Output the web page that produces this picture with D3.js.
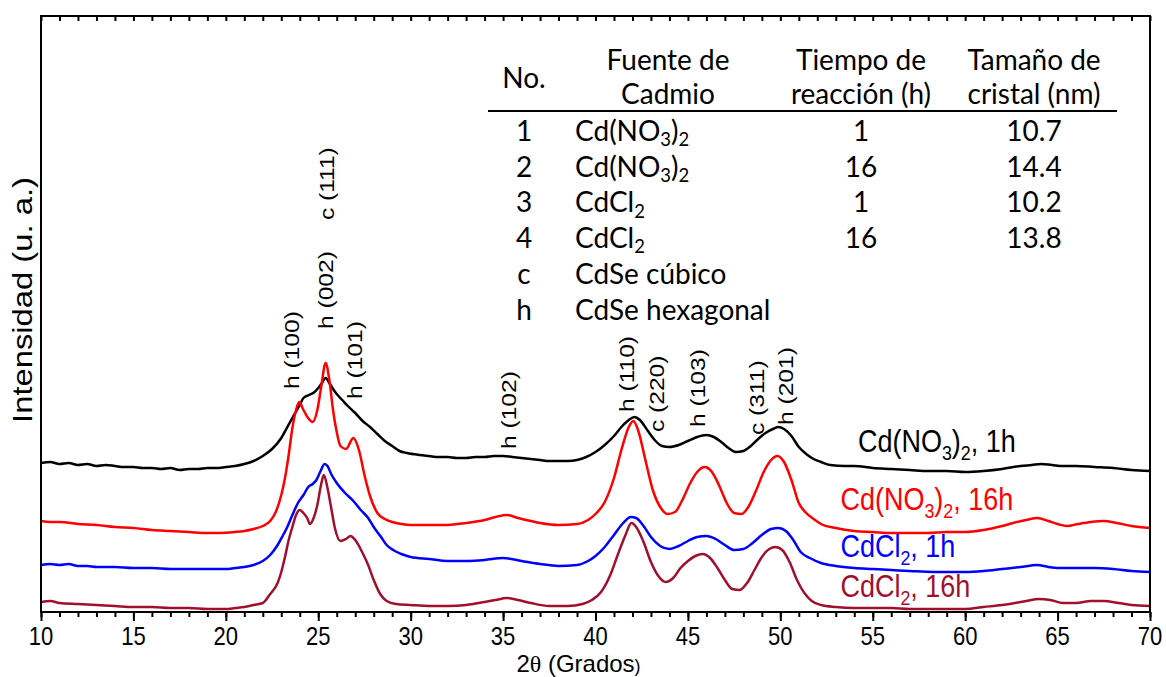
<!DOCTYPE html>
<html>
<head>
<meta charset="utf-8">
<script src="https://cdn.jsdelivr.net/npm/d3@7"></script>
<style>
  body { margin: 0; background: #fff; }
  svg { display: block; }
</style>
</head>
<body>
<svg id="chart" width="1166" height="677"></svg>
<script>
// X-ray diffraction patterns of CdSe, offset vertically (arbitrary units).
// Each point: [2θ in degrees, intensity in a.u. including the stacking offset]
const cdNO3_1h = [
  [10,149],[10.5,150],[11,148],[11.5,149],[12,147],[12.5,148],[13,146],[13.5,147],[14,146],[14.5,145],
  [15,145],[15.5,144],[16,144],[16.5,143],[17,144],[17.5,142],[18,143],[18.5,143],[19,144],[19.5,144],
  [20,145],[20.5,146],[21,148],[21.5,151],[22,156],[22.5,163],[23,174],[23.3,184],[23.6,194],[24,207],
  [24.2,214],[24.5,217],[24.8,220],[25,224],[25.2,229],[25.4,234],[25.6,229],[25.8,223],[26,218],[26.3,212],
  [26.6,206],[27,199],[27.4,191],[27.8,185],[28.2,178],[28.6,171],[29,166],[29.4,161],[29.8,159],[30.5,157],
  [31,156],[31.5,155],[32,155],[32.5,154],[33,154],[33.5,155],[34,155],[34.5,156],[35,156],[35.5,155],
  [36,154],[36.5,153],[37,152],[37.5,151],[38,151],[38.5,151],[39,152],[39.5,155],[40,160],[40.5,167],
  [41,176],[41.4,185],[41.8,192],[42.1,195],[42.4,192],[42.8,182],[43.2,172],[43.6,166],[44,165],[44.5,167],
  [45,171],[45.5,175],[46,177],[46.4,175],[46.8,170],[47.2,164],[47.6,160],[48,161],[48.4,166],[48.8,173],
  [49.2,179],[49.6,183],[49.9,185],[50.2,183],[50.6,176],[51,165],[51.4,158],[51.8,153],[52.2,150],[52.7,147],
  [53.5,146],[54,146],[55,144],[56,143],[57,142],[58,141],[59,141],[60,140],[61,141],[62,143],
  [63,146],[63.6,147],[64.1,148],[64.7,147],[65.3,146],[66,146],[67,145],[68,144],[69,142],[70,141]
];

const cdNO3_16h = [
  [10,91],[10.5,90],[11,90],[12,88],[13,87],[14,85],[15,84],[16,82],[17,81],[18,80],
  [19,79],[19.5,79],[20.5,80],[21,81],[21.5,83],[22,86],[22.4,91],[22.7,100],[23,117],[23.2,134],
  [23.4,157],[23.6,184],[23.8,202],[23.97,210],[24.2,202],[24.45,194],[24.7,190],[24.95,202],[25.15,224],[25.4,249],
  [25.6,232],[25.8,202],[26,180],[26.2,166],[26.5,163],[26.9,174],[27.2,162],[27.5,137],[27.8,116],[28.2,99],
  [28.6,93],[29,90],[29.5,88],[30,87],[31,87],[32,87],[33,89],[34,92],[34.6,95],[35.2,97],
  [35.8,94],[36.5,91],[37,89],[38,87],[39,88],[39.6,92],[40,98],[40.5,110],[41,134],[41.4,162],
  [41.8,185],[42.05,191],[42.3,182],[42.7,152],[43.1,122],[43.5,105],[43.9,98],[44.3,100],[44.7,112],[45.1,128],
  [45.5,140],[45.9,145],[46.3,140],[46.7,126],[47.1,109],[47.5,99],[47.9,98],[48.3,106],[48.7,122],[49.1,140],
  [49.5,152],[49.85,156],[50.2,150],[50.6,132],[51,109],[51.4,99],[51.8,93],[52.2,88],[53,84],[54,81],
  [55,80],[56,79],[57,79],[58,79],[59,80],[60,80],[61,82],[62,86],[62.6,89],[63.3,92],
  [63.9,94],[64.5,91],[65,88],[65.5,86],[66.1,88],[66.8,90],[67.5,91],[68.2,89],[69,86],[70,84]
];

const cdCl2_1h = [
  [10,47],[10.5,48],[11,47],[11.5,48],[12,46],[12.5,46],[13,45],[14,45],[15,44],[16,44],
  [17,43],[18,43],[19,43],[20,43],[20.5,44],[21,45],[21.5,47],[22,51],[22.4,57],[22.8,67],
  [23.1,77],[23.3,84],[23.6,97],[23.9,109],[24.2,117],[24.46,125],[24.7,128],[24.9,132],[25.1,140],[25.35,148],
  [25.5,146],[25.7,138],[26,129],[26.4,120],[26.9,111],[27.3,102],[27.7,94],[28,85],[28.4,75],[28.7,67],
  [29.05,62],[29.5,58],[30,55],[31,53],[32,51],[33,51],[34,52],[35,54],[36,51],[37,48],
  [38,46],[39,47],[39.6,51],[40,56],[40.5,65],[41,77],[41.5,89],[41.9,95],[42.2,94],[42.6,86],
  [43,75],[43.5,66],[44,63],[44.5,66],[45,71],[45.5,75],[46,76],[46.5,73],[47,67],[47.5,62],
  [48,63],[48.5,69],[49,77],[49.5,83],[49.9,84],[50.3,81],[50.7,72],[51.1,60],[51.6,54],[52.2,49],
  [53,46],[54,44],[55,43],[56,42],[57,41],[58.3,40],[59,40],[60,40],[61,41],[62,43],
  [63,45],[63.9,47],[64.5,45],[65,44],[66,44],[67,44],[68,43],[69,41],[70,40]
];

const cdCl2_16h = [
  [10,10],[10.5,11],[11,9],[12,8],[13,7],[14,6],[15,5],[16,5],[17,4],[18,4],
  [19,3],[20,3],[20.5,4],[21,5],[21.5,7],[22,9],[22.4,18],[22.8,29],[23,40],[23.2,55],
  [23.4,72],[23.6,85],[23.8,97],[24,102],[24.2,99],[24.4,94],[24.55,88],[24.75,94],[24.95,107],[25.15,127],
  [25.3,137],[25.5,124],[25.7,104],[25.9,84],[26.2,71],[26.5,73],[26.75,76],[27,72],[27.4,59],[27.7,47],
  [28,32],[28.35,18],[28.7,11],[29.2,8],[30,7],[31,6],[32,6],[33,7],[34,10],[34.6,12],
  [35.2,14],[35.8,12],[36.5,9],[37.5,6],[38.5,6],[39.3,8],[39.8,12],[40.3,20],[40.8,37],[41.2,57],
  [41.6,76],[41.95,89],[42.2,85],[42.6,70],[43,50],[43.4,36],[43.8,30],[44.2,34],[44.6,44],[45,51],
  [45.4,56],[45.8,58],[46.2,54],[46.6,44],[47,32],[47.4,23],[47.8,22],[48.2,29],[48.6,42],[49,55],
  [49.4,63],[49.75,65],[50.1,62],[50.5,50],[50.9,32],[51.3,19],[51.7,11],[52.2,7],[53,5],[54,4],
  [55,4],[56,4],[57,3],[58,3],[59,3],[60,3],[61,5],[62,7],[62.7,9],[63.3,11],
  [64,13],[64.6,12],[65.3,9],[66,9],[66.8,11],[67.5,11],[68.3,9],[69,7],[70,6]
];

const seriesNames = ["Cd(NO_3)_2, 1h", "Cd(NO_3)_2, 16h", "CdCl_2, 1h", "CdCl_2, 16h"];
const seriesColors = ["#000000", "#ff0000", "#0000ff", "#a0102e"];
const seriesData = [cdNO3_1h, cdNO3_16h, cdCl2_1h, cdCl2_16h];
// label anchor: [2θ, intensity] of the text start
const seriesLabelAt = [[54.2,160],[53.25,102],[53.25,55],[53.25,15]];

// Reflection assignments: text, 2θ of the text baseline, intensity where the text starts
const peakText  = ["h (100)","h (002)","c (111)","h (101)","h (102)","h (110)","c (220)","h (103)","c (311)","h (201)"];
const peakTheta = [23.97, 25.81, 25.86, 27.38, 35.72, 42.11, 43.73, 45.90, 49.09, 50.71];
const peakLevel = [223, 283, 392, 213, 163, 200, 180, 185, 177, 187];

const xMajorTicks = [10,15,20,25,30,35,40,45,50,55,60,65,70];
const xMinorTicks = d3.range(10, 71, 1);

// Inset table
const tableHeadNo = "No.";
const tableHead = [["Fuente de","Cadmio"],["Tiempo de","reacción (h)"],["Tamaño de","cristal (nm)"]];
const tableNo     = ["1","2","3","4","c","h"];
const tableSource = ["Cd(NO_3)_2","Cd(NO_3)_2","CdCl_2","CdCl_2","CdSe cúbico","CdSe hexagonal"];
const tableTime   = ["1","16","1","16","",""];
const tableSize   = ["10.7","14.4","10.2","13.8","",""];

const svg = d3.select("#chart");
const W = 1166, H = 677;
const margin = {left: 41, right: 16, top: 16, bottom: 65};
const x = d3.scaleLinear().domain([10, 70]).range([margin.left, W - margin.right]);
const y = d3.scaleLinear().domain([0, 596]).range([H - margin.bottom, margin.top]);
const STRETCH = 1.17;
const SANS = "'Liberation Sans', Arimo, Arial, sans-serif";

// Writes "A_3" style markup as text, with the character after "_" as a subscript.
function richText(sel, str, size, shift) {
  const parts = str.split(/_(.)/);
  let pending = 0;
  parts.forEach((p, i) => {
    if (p === "") return;
    const sub = i % 2 === 1;
    const target = sub ? shift : 0;
    const ts = sel.append("tspan")
      .attr("font-size", sub ? size * 0.66 : size)
      .text(p);
    const dy = target - pending;
    if (dy !== 0) ts.attr("dy", dy);
    pending = target;
  });
}

// Patterns
const line = d3.line().x(d => x(d[0])).y(d => y(d[1])).curve(d3.curveMonotoneX);
const plot = svg.append("g");
seriesData.forEach((data, i) => {
  plot.append("path")
    .datum(data)
    .attr("d", line)
    .attr("fill", "none")
    .attr("stroke", seriesColors[i])
    .attr("stroke-width", 2.5)
    .attr("stroke-linejoin", "round");
});

// Frame
svg.append("rect")
  .attr("x", x(10)).attr("y", y(596))
  .attr("width", x(70) - x(10)).attr("height", y(0) - y(596))
  .attr("fill", "none").attr("stroke", "#000").attr("stroke-width", 2);

// Bottom ticks (outward) and top ticks (inward)
const bottomMinor = d3.axisBottom(x).tickValues(xMinorTicks).tickSize(5).tickFormat("");
const bottomMajor = d3.axisBottom(x).tickValues(xMajorTicks).tickSize(9).tickFormat("");
const topMinor = d3.axisTop(x).tickValues(xMinorTicks).tickSize(-5).tickFormat("");
[bottomMinor, bottomMajor].forEach(ax => {
  const g = svg.append("g").attr("transform", `translate(0,${y(0)})`).call(ax);
  g.select(".domain").remove();
  g.selectAll("text").remove();
  g.selectAll("line").attr("stroke", "#000").attr("stroke-width", 2);
});
{
  const g = svg.append("g").attr("transform", `translate(0,${y(596)})`).call(topMinor);
  g.select(".domain").remove();
  g.selectAll("text").remove();
  g.selectAll("line").attr("stroke", "#000").attr("stroke-width", 2);
}

// Tick labels
svg.append("g").selectAll("text")
  .data(xMajorTicks).join("text")
  .attr("transform", d => `translate(${x(d)},${y(0) + 33}) scale(1,${STRETCH})`)
  .attr("text-anchor", "middle")
  .attr("font-family", SANS).attr("font-size", 22)
  .attr("fill", "#000")
  .text(d => d);

// Axis titles
{
  const t = svg.append("text")
    .attr("transform", `translate(${(x(10) + x(70)) / 2 - 17},${H - 5})`)
    .attr("text-anchor", "middle")
    .attr("font-family", SANS).attr("font-size", 24).attr("fill", "#000");
  t.append("tspan").text("2");
  t.append("tspan").attr("font-family", "'Liberation Serif', 'DejaVu Serif', serif").text("\u03B8");
  t.append("tspan").text(" (Grados");
  t.append("tspan").attr("font-size", 18).text(")");
}
svg.append("text")
  .attr("transform", `translate(32,${(y(0) + y(596)) / 2 - 14}) scale(1,${STRETCH}) rotate(-90)`)
  .attr("text-anchor", "middle")
  .attr("font-family", SANS).attr("font-size", 28).attr("fill", "#000")
  .text("Intensidad (u. a.)");

// Reflection labels
svg.append("g").selectAll("text")
  .data(peakText).join("text")
  .attr("transform", (d, i) => `translate(${x(peakTheta[i])},${y(peakLevel[i])}) scale(1,${STRETCH}) rotate(-90)`)
  .attr("font-family", SANS).attr("font-size", 21).attr("fill", "#000")
  .text(d => d);

// Series labels
seriesNames.forEach((name, i) => {
  const [t, v] = seriesLabelAt[i];
  const txt = svg.append("text")
    .attr("transform", `translate(${x(t)},${y(v)}) scale(1,${STRETCH})`)
    .attr("font-family", SANS).attr("fill", seriesColors[i]);
  richText(txt, name, 27, 7);
});

// Inset table
const LATO = "Lato, 'Open Sans', sans-serif";
const TS = 1.05;
const tfs = 28;
const tbl = svg.append("g").attr("font-family", LATO).attr("fill", "#000");
const colNo = 524, colSrc = 575, colTime = 861, colSize = 1034;
function cell(xp, yp, str, anchor) {
  const t = tbl.append("text")
    .attr("transform", `translate(${xp},${yp}) scale(1,${TS})`)
    .attr("text-anchor", anchor);
  richText(t, str, tfs, 5);
  return t;
}
cell(colNo, 88, tableHeadNo, "middle");
[colSrc + 93, colTime, colSize].forEach((cx, i) => {
  cell(cx, 70, tableHead[i][0], "middle");
  cell(cx, 104, tableHead[i][1], "middle");
});
tbl.append("line")
  .attr("x1", 488).attr("x2", 1117).attr("y1", 111).attr("y2", 111)
  .attr("stroke", "#000").attr("stroke-width", 2);
tableNo.forEach((n, i) => {
  const yy = 141 + i * 35.7;
  cell(colNo, yy, n, "middle");
  cell(colSrc, yy, tableSource[i], "start");
  if (tableTime[i]) cell(colTime, yy, tableTime[i], "middle");
  if (tableSize[i]) cell(colSize, yy, tableSize[i], "middle");
});
</script>
</body>
</html>
